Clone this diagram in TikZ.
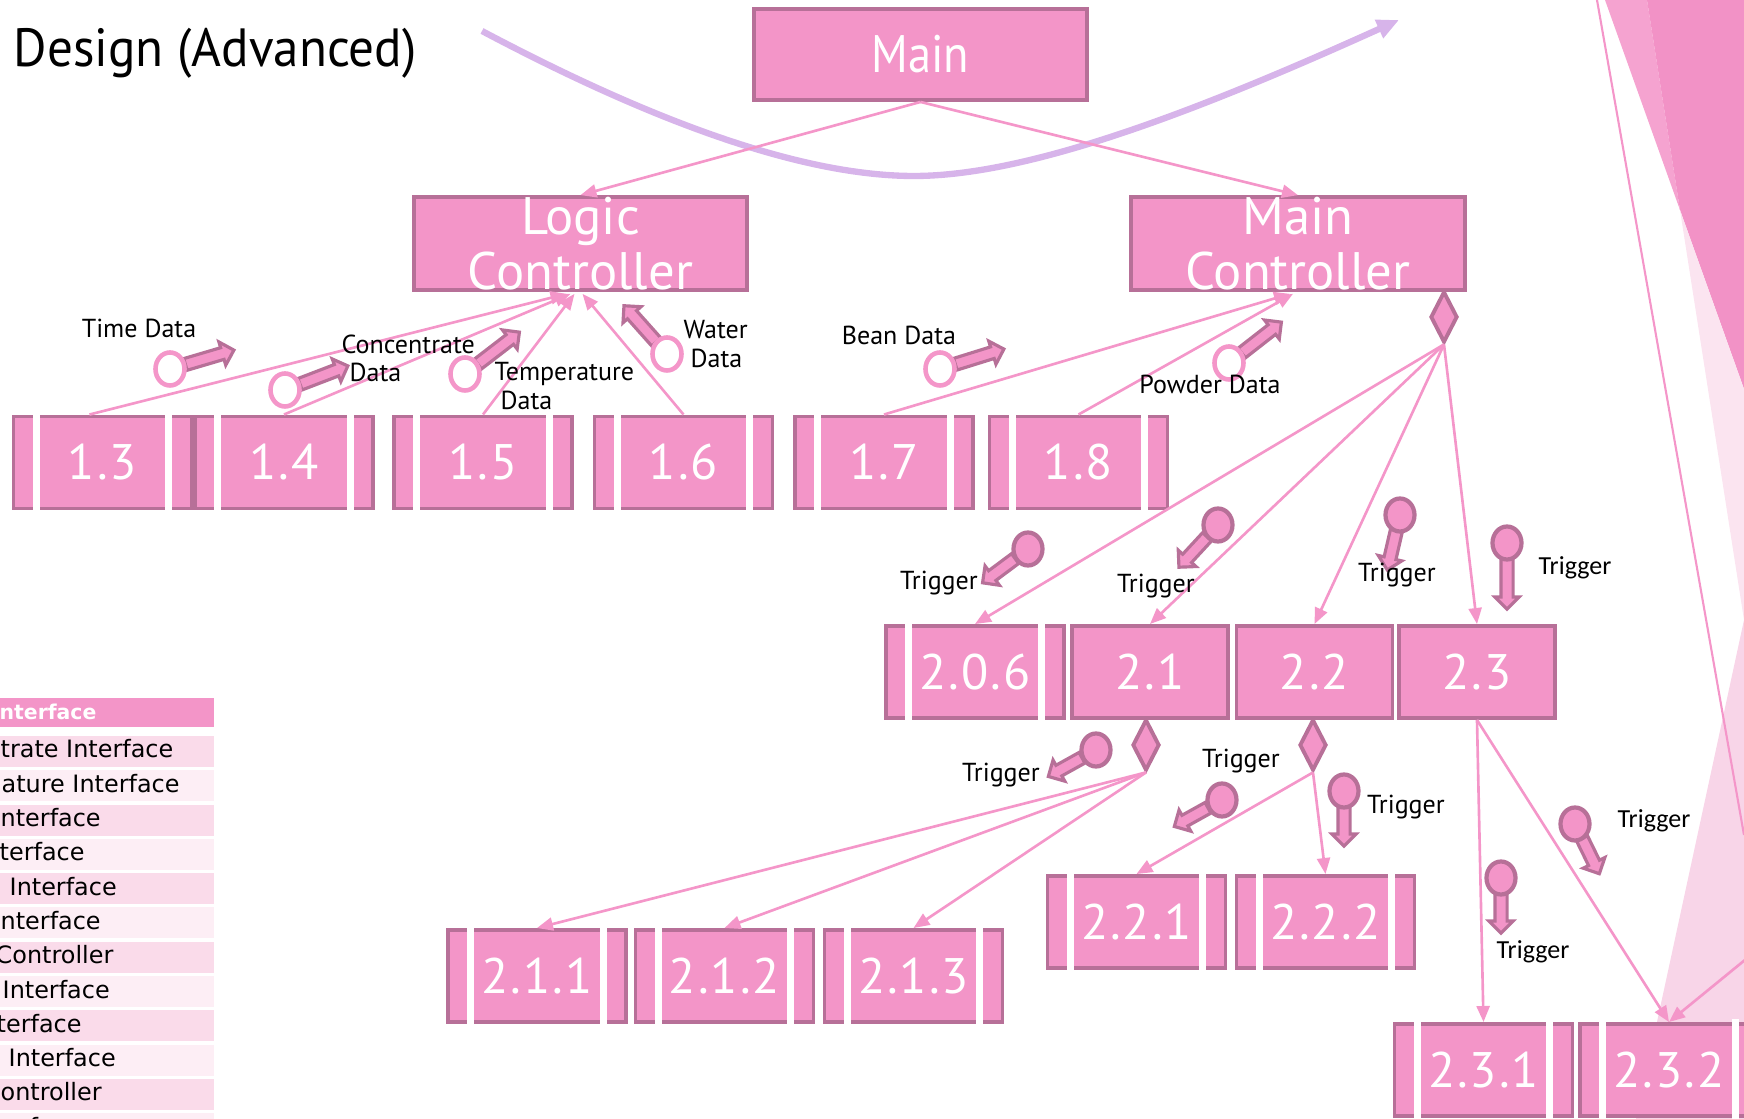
\documentclass[tikz,border=0pt]{standalone}
\usepackage{fontspec}
\usepackage{graphicx}
\setmainfont{PT Sans}
\newfontfamily\cplfont{Carlito}
\newfontfamily\tblfont{DejaVu Sans}
\newfontfamily\digitfont[LetterSpace=4]{PT Sans}
\usetikzlibrary{arrows.meta,shapes.geometric,shapes.arrows,calc}
\definecolor{boxpink}{RGB}{243,149,200}
\definecolor{boxedge}{RGB}{183,112,152}
\definecolor{linepink}{RGB}{244,150,201}
\definecolor{curvepur}{RGB}{215,180,234}
\definecolor{rowdark}{RGB}{250,219,234}
\definecolor{rowlight}{RGB}{253,238,245}
\definecolor{bgdark}{RGB}{242,146,198}
\definecolor{bgmid}{RGB}{245,163,208}
\definecolor{bgwedge}{RGB}{251,228,240}
\definecolor{bglow}{RGB}{248,213,232}
\tikzset{
 conn/.style={draw=linepink, line width=0.75pt, -{Triangle[length=0.16cm,width=0.13cm]}},
 boxbase/.style={rectangle, draw=boxedge, fill=boxpink, line width=1.1pt, inner sep=0pt, text=white},
 bigbox/.style={boxbase, minimum width=3.33cm, minimum height=0.91cm, font=\fontsize{15}{15.6}\selectfont, align=center},
 plainbox/.style={boxbase, minimum width=1.56cm, minimum height=0.92cm, font=\digitfont\fontsize{14.2}{14.2}\selectfont},
 procbox/.style={boxbase, minimum width=1.78cm, minimum height=0.92cm, font=\digitfont\fontsize{14.2}{14.2}\selectfont},
 decision/.style={diamond, draw=boxedge, fill=boxpink, line width=1.1pt, inner sep=0pt, minimum width=0.27cm, minimum height=0.51cm, aspect=0.53},
 cplarrow/.style={single arrow, draw=boxedge, fill=boxpink, line width=0.9pt, inner xsep=0pt, inner ysep=0.045cm, single arrow head extend=0.06cm},
 opencpl/.style={ellipse, draw=linepink, fill=white, line width=1.3pt, minimum width=0.29cm, minimum height=0.33cm, inner sep=0pt},
 ctlcpl/.style={ellipse, draw=boxedge, fill=boxpink, line width=1.2pt, minimum width=0.29cm, minimum height=0.33cm, inner sep=0pt},
 lbl/.style={inner sep=0pt, font=\fontsize{7.4}{8}\selectfont},
 clbl/.style={inner sep=0pt, font=\cplfont\fontsize{7.4}{8}\selectfont},
 tbltext/.style={inner sep=0pt, anchor=base west, font=\tblfont\fontsize{6.8}{8}\selectfont},
}
\newcommand\procnode[4]{%
  \node[procbox] (#1) at (#2,#3) {#4};
  \fill[white] ($(#1.north west)+(21,-3)$) rectangle ($(#1.south west)+(28,3)$);
  \fill[white] ($(#1.north east)+(-28,-3)$) rectangle ($(#1.south east)+(-21,3)$);
}
\newcommand\couple[6]{%
  \coordinate (#1c) at (#2,#3);
  \coordinate (#1e) at (#4,#5);
  \coordinate (#1s) at ($(#1c)!0.13cm!(#1e)$);
  \path let \p1=(#1s), \p2=(#1e), \n1={atan2(\y2-\y1,\x2-\x1)}, \n2={veclen(\x2-\x1,\y2-\y1)} in
    node[cplarrow, rotate=\n1, minimum height=\n2] (#1a) at ($(#1s)!0.5!(#1e)$) {};
  \node[#6] (#1o) at (#1c) {};
}
\begin{document}
\begin{tikzpicture}[x=0.01cm,y=-0.01cm]
\useasboundingbox (0,0) rectangle (1744,1119);
\clip (0,0) rectangle (1744,1119);
% background decoration
\fill[bgmid] (1605,0) -- (1647,0) -- (1680,210) -- cycle;
\fill[bgdark] (1647,0) -- (1744,0) -- (1744,389) -- (1680,210) -- cycle;
\fill[bgwedge] (1680,210) -- (1744,389) -- (1744,620) -- cycle;
\fill[bglow] (1744,620) -- (1744,1119) -- (1636,1119) -- cycle;
\coordinate (tlA) at (1597,0);
\coordinate (tlB) at (1744,835);
\draw[linepink, line width=0.6pt] (tlA) -- (tlB);
% title
\node[anchor=base west, inner sep=0pt, font=\fontsize{15.3}{18}\selectfont] (title) at (13,67) {\scalebox{0.95}[1]{Design (Advanced)}};
% table
\fill[boxpink] (0,698) rectangle (214,727);
\node[tbltext, text=white, font=\tblfont\bfseries\fontsize{5.8}{7}\selectfont] (th) at (-1,720) {nterface};
\foreach \i/\c/\xo/\t in {1/rowdark/0/{trate Interface},2/rowlight/1/{ature Interface},3/rowdark/0/{nterface},4/rowlight/-1/{terface},5/rowdark/9/{Interface},6/rowlight/0/{nterface},7/rowdark/-5/{Controller},8/rowlight/2/{Interface},9/rowdark/-4/{terface},10/rowlight/8/{Interface},11/rowdark/0/{ontroller},12/rowlight/-5/{terface}}{
  \fill[\c] (0,{736+(\i-1)*34.3}) rectangle (214,{767+(\i-1)*34.3});
  \node[tbltext] (tr\i) at (\xo,{758+(\i-1)*34.3}) {\t};
}
% purple curve
\coordinate (cvA) at (482,31);
\coordinate (cvM) at (914,176);
\coordinate (cvB) at (1399,20);
\draw[curvepur, line width=1.8pt, -{Triangle[length=0.22cm,width=0.19cm]}] (cvA) .. controls (650,120) and (800,176) .. (cvM) .. controls (1030,176) and (1200,110) .. (cvB);
% boxes
\node[bigbox] (main) at (920.5,54.5) {\scalebox{0.88}[1]{Main}};
\node[bigbox] (logic) at (580.5,243.5) {Logic\\Controller};
\node[bigbox] (mctl) at (1298,243.5) {Main\\Controller};
\procnode{b13}{102.5}{462.5}{1.3}
\procnode{b14}{284}{462.5}{1.4}
\procnode{b15}{483}{462.5}{1.5}
\procnode{b16}{683.5}{462.5}{1.6}
\procnode{b17}{884}{462.5}{1.7}
\procnode{b18}{1078.5}{462.5}{1.8}
\node[decision] (d0) at (1444,317) {};
\procnode{b206}{975}{672}{2.0.6}
\node[plainbox] (b21) at (1150,672) {2.1};
\node[plainbox] (b22) at (1314.5,672) {2.2};
\node[plainbox] (b23) at (1477,672) {2.3};
\node[decision] (d21) at (1146,745) {};
\node[decision] (d22) at (1313,745) {};
\procnode{b211}{537}{976}{2.1.1}
\procnode{b212}{724.5}{976}{2.1.2}
\procnode{b213}{913.5}{976}{2.1.3}
\procnode{b221}{1136.5}{922}{2.2.1}
\procnode{b222}{1325.5}{922}{2.2.2}
\procnode{b231}{1483.5}{1070}{2.3.1}
\procnode{b232}{1669}{1070}{2.3.2}
% connectors
\draw[conn] (main.south) -- (logic.north);
\draw[conn] (main.south) -- (mctl.north);
\draw[conn] ($(b13.north)+(-13,0)$) -- ($(logic.south)+(-14,2)$);
\draw[conn] (b14.north) -- ($(logic.south)+(-10,2)$);
\draw[conn] (b15.north) -- ($(logic.south)+(-6,2)$);
\draw[conn] (b16.north) -- ($(logic.south)+(2,2)$);
\draw[conn] (b17.north) -- ($(mctl.south)+(-8,2)$);
\draw[conn] (b18.north) -- ($(mctl.south)+(-5,2)$);
\draw[conn] (d0.south) -- (b206.north);
\draw[conn] (d0.south) -- (b21.north);
\draw[conn] (d0.south) -- (b22.north);
\draw[conn] (d0.south) -- (b23.north);
\draw[conn] (d21.south) -- (b211.north);
\draw[conn] (d21.south) -- (b212.north);
\draw[conn] (d21.south) -- (b213.north);
\draw[conn] (d22.south) -- (b221.north);
\draw[conn] (d22.south) -- (b222.north);
\draw[conn] (b23.south) -- (b231.north);
\draw[conn] (b23.south) -- (b232.north);
\coordinate (offr) at (1800,915);
\draw[conn] (offr) -- (b232.north);
% couples
\couple{cT}{170}{369}{231}{351}{opencpl}
\couple{cC}{285}{390}{345}{367}{opencpl}
\couple{cTe}{465}{374}{517}{334}{opencpl}
\couple{cW}{667}{354}{626}{308}{opencpl}
\couple{cB}{940}{369}{1001}{350}{opencpl}
\couple{cP}{1229}{363}{1279}{324}{opencpl}
\couple{tA}{1028}{549}{985}{581}{ctlcpl}
\couple{tB}{1218}{525}{1181}{565}{ctlcpl}
\couple{tC}{1400}{515}{1388}{567}{ctlcpl}
\couple{tD}{1507}{543}{1507}{606}{ctlcpl}
\couple{tE}{1096}{750}{1051}{775}{ctlcpl}
\couple{tF}{1222}{800}{1177}{825}{ctlcpl}
\couple{tG}{1344}{791}{1344}{843}{ctlcpl}
\couple{tH}{1501}{878}{1501}{930}{ctlcpl}
\couple{tI}{1575}{824}{1598}{871}{ctlcpl}
% labels
\node[lbl] (lT) at (139,328) {Time Data};
\node[lbl, align=left, anchor=west] (lC) at (341,358) {Concentrate\\\hspace*{0.08cm}Data};
\node[lbl, align=left, anchor=west] (lTe) at (494,386) {Temperature\\\hspace*{0.06cm}Data};
\node[lbl, align=left, anchor=west] (lW) at (683,344) {Water\\\hspace*{0.07cm}Data};
\node[lbl] (lB) at (899,335) {Bean Data};
\node[lbl] (lP) at (1210,384) {Powder Data};
\node[lbl] (ltA) at (939,583) {Trigger};
\node[lbl] (ltB) at (1156,586) {Trigger};
\node[lbl] (ltC) at (1397,575) {Trigger};
\node[clbl] (ltD) at (1575,568) {Trigger};
\node[lbl] (ltE) at (1001,775) {Trigger};
\node[lbl] (ltF) at (1241,761) {Trigger};
\node[lbl] (ltG) at (1406,807) {Trigger};
\node[clbl] (ltH) at (1533,952) {Trigger};
\node[clbl] (ltI) at (1654,821) {Trigger};
\end{tikzpicture}
\end{document}
